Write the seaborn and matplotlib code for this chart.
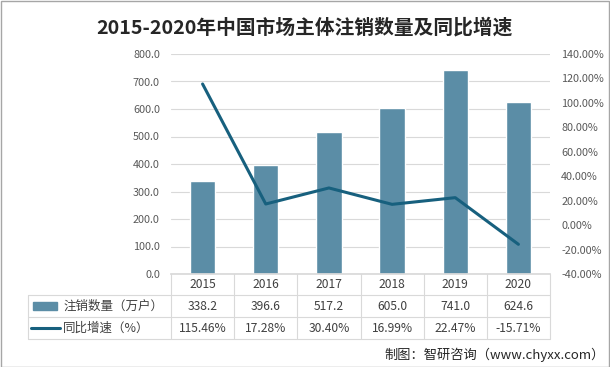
import numpy as np
import pandas as pd
import matplotlib
matplotlib.use("Agg")
import matplotlib.pyplot as plt
import seaborn as sns
from matplotlib.patches import Rectangle
from matplotlib.lines import Line2D

# 数据
years = ["2015", "2016", "2017", "2018", "2019", "2020"]
cancel_counts = [338.2, 396.6, 517.2, 605.0, 741.0, 624.6]
yoy_growth = [115.46, 17.28, 30.40, 16.99, 22.47, -15.71]
bar_label = "注销数量（万户）"
line_label = "同比增速（%）"
title = "2015-2020年中国市场主体注销数量及同比增速"
source = "制图：智研咨询（www.chyxx.com）"

bar_color = "#5B8DA6"
line_color = "#17607E"
grid_color = "#D9D9D9"
text_color = "#595959"

sns.set_theme(style="white")
plt.rcParams["font.family"] = ["Noto Sans CJK SC", "DejaVu Sans"]

W, H = 610, 367
fig = plt.figure(figsize=(W / 100, H / 100), dpi=100)

# 绘图区（像素坐标换算）
x0, x1, yt, yb = 171, 550, 54, 274
ax = fig.add_axes([x0 / W, 1 - yb / H, (x1 - x0) / W, (yb - yt) / H])

df = pd.DataFrame({"年份": years, "注销数量": cancel_counts, "增速": yoy_growth})
sns.barplot(data=df, x="年份", y="注销数量", color=bar_color, width=0.4,
            saturation=1, ax=ax, zorder=2)
ax.set_ylim(0, 800)
ax.set_yticks(np.arange(0, 801, 100))
ax.set_yticklabels([f"{v:.1f}" for v in np.arange(0, 801, 100)],
                   fontsize=7.8, color=text_color)
ax.yaxis.grid(True, color=grid_color, linewidth=0.8, zorder=0)
ax.set_xlim(-0.5, len(years) - 0.5)
ax.set_xticks([])
ax.set_xlabel("")
ax.set_ylabel("")
for s in ["top", "right", "left"]:
    ax.spines[s].set_visible(False)
ax.spines["bottom"].set_color(grid_color)
ax.tick_params(axis="y", length=0, pad=8)

ax2 = ax.twinx()
sns.lineplot(x=np.arange(len(years)), y=yoy_growth, color=line_color,
             linewidth=2.2, ax=ax2, zorder=3)
ax2.set_ylim(-40, 140)
ticks2 = np.arange(-40, 141, 20)
ax2.set_yticks(ticks2)
ax2.set_yticklabels([f"{v:.2f}%" for v in ticks2], fontsize=7.8, color=text_color)
ax2.tick_params(axis="y", length=0, pad=8)
for s in ax2.spines.values():
    s.set_visible(False)
ax2.set_xlim(-0.5, len(years) - 0.5)

# 数据表
def fx(px):
    return px / W

def fy(py):
    return 1 - py / H

col_w = (x1 - x0) / len(years)
rows = [274, 295, 317, 339]
lab_left = 28
for y in rows[1:]:
    fig.add_artist(Line2D([fx(lab_left), fx(x1)], [fy(y), fy(y)],
                          color=grid_color, linewidth=0.8))
fig.add_artist(Line2D([fx(lab_left), fx(lab_left)], [fy(rows[1]), fy(rows[3])],
                      color=grid_color, linewidth=0.8))
for i in range(len(years) + 1):
    xx = x0 + i * col_w
    fig.add_artist(Line2D([fx(xx), fx(xx)], [fy(rows[0]), fy(rows[3])],
                          color=grid_color, linewidth=0.8))

for i, yr in enumerate(years):
    cx = x0 + (i + 0.5) * col_w
    fig.text(fx(cx), fy((rows[0] + rows[1]) / 2), yr, ha="center", va="center",
             fontsize=8.7, color="#404040")
    fig.text(fx(cx), fy((rows[1] + rows[2]) / 2), f"{cancel_counts[i]:.1f}",
             ha="center", va="center", fontsize=8.7, color="#404040")
    fig.text(fx(cx), fy((rows[2] + rows[3]) / 2), f"{yoy_growth[i]:.2f}%",
             ha="center", va="center", fontsize=8.7, color="#404040")

# 图例键
fig.add_artist(Rectangle((fx(33), fy(310)), fx(24), 8 / H, color=bar_color))
fig.add_artist(Line2D([fx(31), fx(60)], [fy(327.5), fy(327.5)],
                      color=line_color, linewidth=2.2))
fig.text(fx(63), fy((rows[1] + rows[2]) / 2), bar_label, ha="left", va="center",
         fontsize=9, color="#404040")
fig.text(fx(63), fy((rows[2] + rows[3]) / 2), line_label, ha="left", va="center",
         fontsize=9, color="#404040")

# 标题与来源
fig.text(fx(304), fy(28), title, ha="center", va="center", fontsize=14.2,
         fontweight="bold", color="#262626")
fig.text(fx(605), fy(355), source, ha="right", va="center", fontsize=9.5,
         color="#262626")

# 外框
fig.add_artist(Rectangle((0.001, 0.001), 0.997, 0.997, fill=False,
                         edgecolor="#A6A6A6", linewidth=1))

fig.savefig("out.png", dpi=100)
